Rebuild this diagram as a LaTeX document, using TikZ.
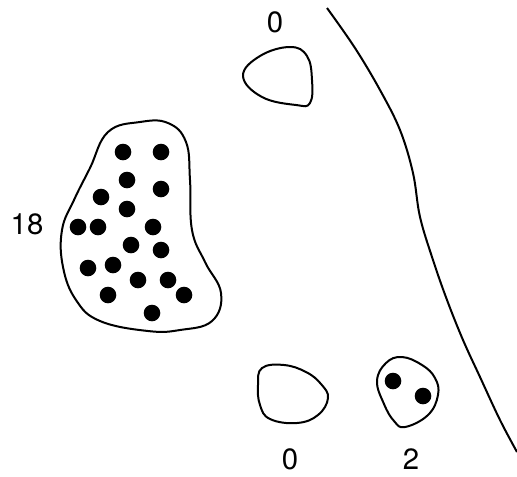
\documentclass[tikz,border=0pt]{standalone}
\usepackage{fontspec}
\setmainfont{TeX Gyre Heros}
\usepackage{tikz}

\begin{document}
\begin{tikzpicture}[
  x=0.75pt, y=-0.75pt,
  blob/.style={draw, line width=1.5pt, line join=round},
  seed/.style={fill, black},
  lbl/.style={font=\fontsize{22}{26}\selectfont, inner sep=0pt},
]
  \useasboundingbox (0,0) rectangle (517,476);

  % boundary line on the right
  \draw[blob] plot[smooth, tension=0.6] coordinates {(327,8) (355,48) (380,90) (400,130)
    (413,173) (420,217) (433,260) (447,300) (463,340) (480,377) (500,420) (517,452)};

  % large cluster
  \draw[blob] plot[smooth cycle, tension=0.7] coordinates {(108,132) (140,122) (168,123)
    (186,142) (190,180) (192,230) (205,262) (221,293) (212,321) (180,330) (148,331)
    (100,321) (76,300) (63,267) (62,230) (74,200) (90,168)};
  \foreach \px/\py in {123/152, 161/152, 127/180, 161/189, 101/197, 127/209,
      78/227, 98/227, 153/227, 131/245, 161/250, 88/268, 113/265, 138/280,
      168/280, 108/295, 184/295, 152/313}
    \fill[seed] (\px,\py) circle (8.3);
  \node[lbl] (big) at (27,224) {18};

  % small empty cluster at the top
  \draw[blob] plot[smooth cycle, tension=0.7] coordinates {(243,76) (260,56) (290,47)
    (307,56) (312,80) (310,103) (296,105) (262,97)};
  \node[lbl] (top) at (275,22) {0};

  % empty cluster at the bottom
  \draw[blob] plot[smooth cycle, tension=0.7] coordinates {(262,368) (284,365) (306,372)
    (321,384) (328,398) (318,415) (297,423) (270,419) (260,405) (258,385)};
  \node[lbl] (low) at (290,459) {0};

  % cluster with two seeds
  \draw[blob] plot[smooth cycle, tension=0.7] coordinates {(402,357) (422,365) (435,378)
    (438,395) (428,415) (405,427) (394,421) (384,404) (377,381) (386,363)};
  \fill[seed] (393,381) circle (8.3);
  \fill[seed] (423,396) circle (8.3);
  \node[lbl] (pair) at (411,459) {2};
\end{tikzpicture}
\end{document}
